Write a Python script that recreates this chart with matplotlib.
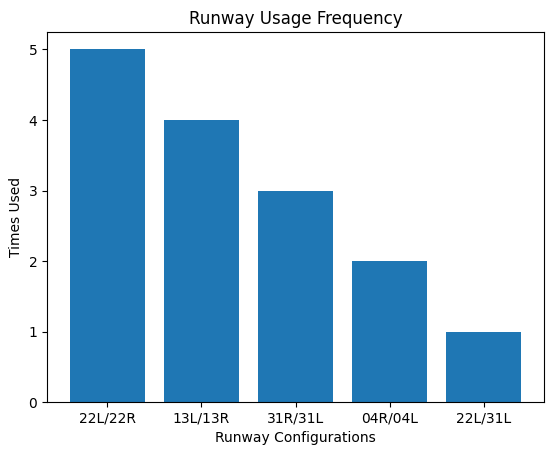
import matplotlib
matplotlib.use("Agg")
import matplotlib.pyplot as plt

categories = ["22L/22R", "13L/13R", "31R/31L", "04R/04L", "22L/31L"]
values = [5, 4, 3, 2, 1]

fig, ax = plt.subplots(figsize=(5.54, 4.55), dpi=100)
ax.bar(categories, values, color="#1f77b4")
ax.set_title("Runway Usage Frequency")
ax.set_xlabel("Runway Configurations")
ax.set_ylabel("Times Used")
fig.subplots_adjust(left=0.085, right=0.982, top=0.93, bottom=0.116)
fig.savefig("out.png", dpi=100)
